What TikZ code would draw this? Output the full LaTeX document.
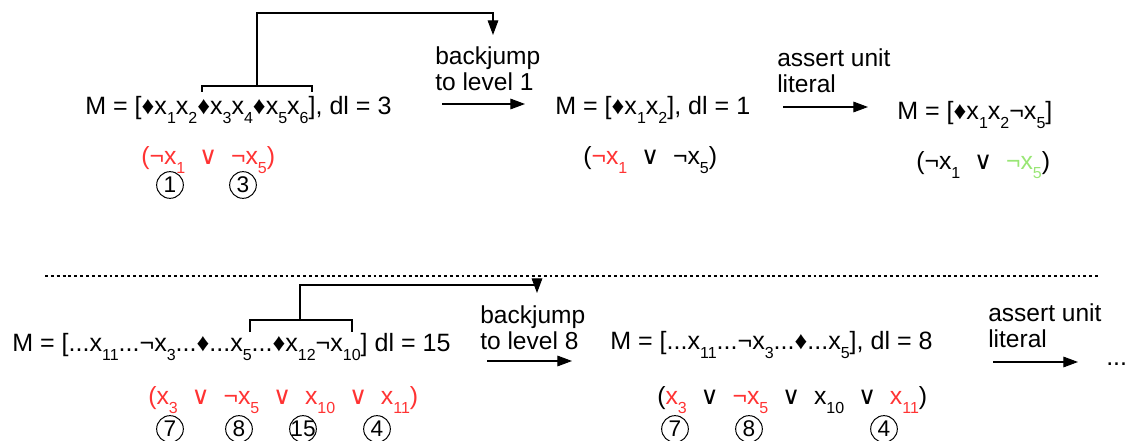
\documentclass[tikz,border=0pt]{standalone}
\usepackage{fontspec}
\setmainfont{Liberation Sans}
\newfontfamily\symfont{DejaVu Sans}
\usetikzlibrary{arrows.meta}
\definecolor{lit}{HTML}{FF3333}
\definecolor{unit}{HTML}{99E675}

\newcommand{\vx}[1]{x\raisebox{-6.5pt}{\fontsize{12}{12}\selectfont #1}}
\newcommand{\orsym}{\ \ {\symfont ∨}\ \ }
\newcommand{\dia}{♦}

\begin{document}
\begin{tikzpicture}[x=0.75pt,y=-0.75pt,line cap=butt,line join=miter]
  \tikzset{
    trail/.style={anchor=base west,inner sep=0pt,font=\fontsize{18.8}{20}\selectfont},
    clause/.style={anchor=base west,inner sep=0pt,font=\fontsize{18.6}{20}\selectfont},
    steplabel/.style={anchor=base west,inner sep=0pt,align=left,font=\fontsize{18.4}{20}\selectfont},
    levelnum/.style={inner sep=0pt,font=\fontsize{17}{17}\selectfont},
    jump/.style={line width=0.8pt,-{Triangle[length=11pt,width=8pt]}},
    bracket/.style={line width=0.8pt},
  }
  \useasboundingbox (0,0) rectangle (1128,441);

  % Top row: backjump to level 1, then assert the unit literal.
  \node[trail] (m1) at (85,115)
    {M = [\dia\vx1\vx2\dia\vx3\vx4\dia\vx5\vx6], dl = 3};
  \node[clause,text=lit] (c1) at (141,165)
    {(¬\vx1\orsym¬\vx5)};
  \node[levelnum] (n1a) at (170,185) {1};
  \node[levelnum] (n1b) at (243,185) {3};

  \node[steplabel] (bj1) at (435,91) {backjump\\to level 1};
  \draw[jump] (442,104) -- (525,104);

  \node[trail] (m2) at (555,115) {M = [\dia\vx1\vx2], dl = 1};
  \node[clause] (c2) at (583,165)
    {({\color{lit}¬\vx1}\orsym¬\vx5)};

  \node[steplabel] (au1) at (777,93) {assert unit\\literal};
  \draw[jump] (783,107) -- (868,107);

  \node[trail] (m3) at (897,120) {M = [\dia\vx1\vx2¬\vx5]};
  \node[clause] (c3) at (916,170)
    {(¬\vx1\orsym{\color{unit}¬\vx5})};

  % Decision levels to drop.
  \coordinate (b1l) at (202,92);
  \coordinate (b1r) at (312,92);
  \draw[bracket] (b1l) -- ++(0,-6) -| (b1r);
  \coordinate (b1m) at (257,86);
  \draw[jump] (b1m) -- (257,13) -| (493,35);

  % Separator.
  \draw[line width=0.8pt,dash pattern=on 2.2pt off 2.2pt] (45,276) -- (1098,276);

  % Bottom row: backjump to level 8.
  \node[trail] (m4) at (12,352)
    {M = [...\vx{11}...¬\vx3...\dia...\vx5...\dia\vx{12}¬\vx{10}] dl = 15};
  \node[clause,text=lit] (c4) at (148,405)
    {(\vx3\orsym¬\vx5\orsym\vx{10}\orsym\vx{11})};
  \node[levelnum] (n4a) at (170,429) {7};
  \node[levelnum] (n4b) at (239,429) {8};
  \node[levelnum] (n4c) at (303,429) {15};
  \node[levelnum] (n4d) at (377,429) {4};

  \node[steplabel] (bj2) at (480,350) {backjump\\to level 8};
  \draw[jump] (487,361) -- (572,361);

  \node[trail] (m5) at (610,350)
    {M = [...\vx{11}...¬\vx3...\dia...\vx5], dl = 8};
  \node[clause] (c5) at (657,405)
    {({\color{lit}\vx3}\orsym{\color{lit}¬\vx5}\orsym\vx{10}\orsym{\color{lit}\vx{11}})};
  \node[levelnum] (n5a) at (675,429) {7};
  \node[levelnum] (n5b) at (749,429) {8};
  \node[levelnum] (n5d) at (884,429) {4};

  \node[steplabel] (au2) at (988,348) {assert unit\\literal};
  \draw[jump] (993,362) -- (1078,362);
  \node[trail] (etc) at (1106,366) {...};

  \coordinate (b2l) at (250,332);
  \coordinate (b2r) at (352,332);
  \draw[bracket] (b2l) -- ++(0,-12) -| (b2r);
  \coordinate (b2m) at (300,320);
  \draw[jump] (b2m) -- (300,285) -| (537,293);

  % Rings round the decision levels.
  \foreach \n in {n1a,n1b,n4a,n4b,n4c,n4d,n5a,n5b,n5d}
    \draw[line width=0.75pt] (\n) circle[radius=10pt];
\end{tikzpicture}
\end{document}
